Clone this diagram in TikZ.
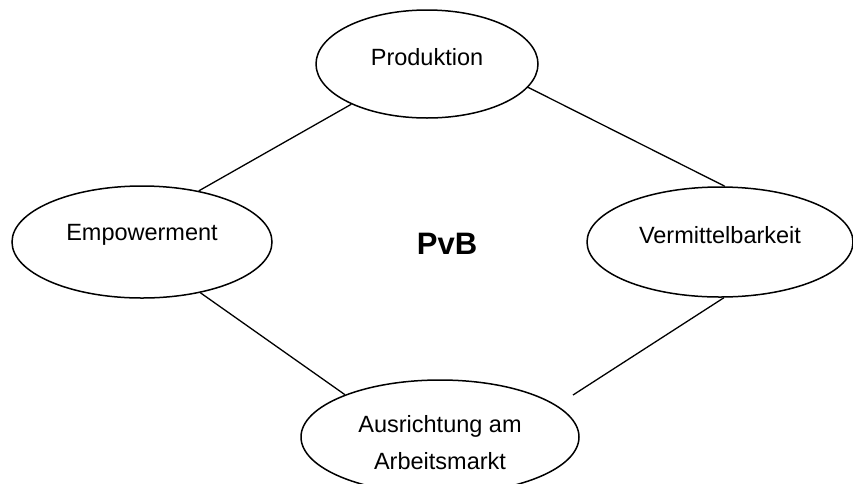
\documentclass[tikz,border=0pt]{standalone}
\usepackage{fontspec}
\setmainfont{Liberation Sans}
\usetikzlibrary{shapes.geometric}
\begin{document}
\begin{tikzpicture}[x=1pt,y=-1pt,
  oval/.style={draw=black,line width=1.5pt,ellipse,inner sep=0pt,align=center,
    font=\fontsize{23.5}{37}\selectfont},
  link/.style={draw=black,line width=1.3pt}]
\useasboundingbox (0,0) rectangle (853,483);
\node[oval,minimum width=222pt,minimum height=108pt] (prod) at (427,64) {\raisebox{7pt}[\height][\depth]{Produktion}};
\node[oval,minimum width=260pt,minimum height=112pt] (emp) at (142,242) {\raisebox{7pt}[\height][\depth]{Empowerment}};
\node[oval,minimum width=266pt,minimum height=110pt] (verm) at (720,242) {\raisebox{7pt}[\height][\depth]{Vermittelbarkeit}};
\node[oval,minimum width=278pt,minimum height=114pt] (ausr) at (440,437) {\raisebox{-7pt}[\height][\depth]{\begin{tabular}{@{}c@{}}Ausrichtung am\\Arbeitsmarkt\end{tabular}}};
\node[font=\fontsize{31}{37}\selectfont\bfseries] (pvb) at (447,244) {PvB};
\coordinate (ausrne) at ([shift={(133,-42)}]ausr.center);
\draw[link] (emp.42) -- (prod.208);
\draw[link] (prod.347) -- (verm.85);
\draw[link] (emp.319) -- (ausr.156);
\draw[link] (verm.274) -- (ausrne);
\end{tikzpicture}
\end{document}
